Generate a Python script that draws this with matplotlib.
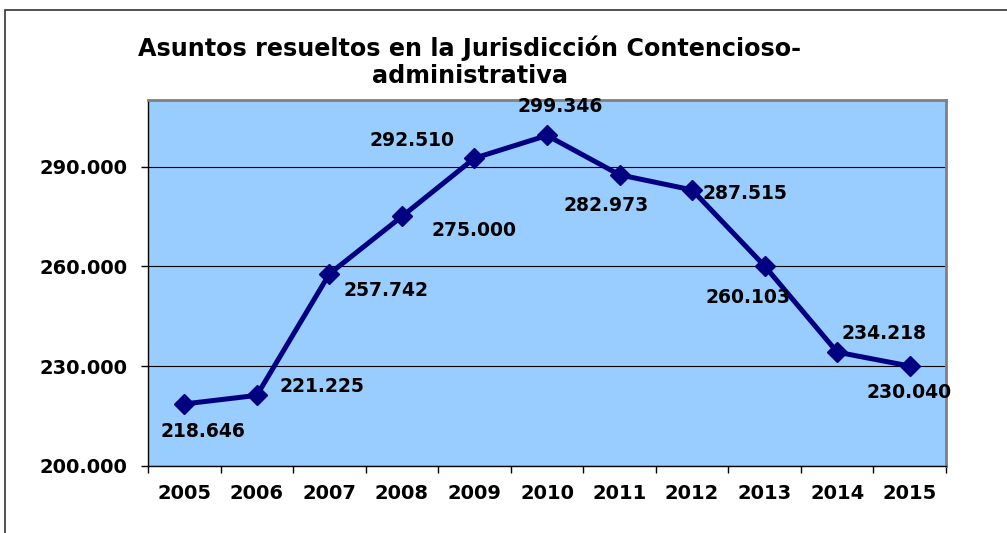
import matplotlib
matplotlib.use('Agg')
from matplotlib import pyplot as plt
from matplotlib.patches import Rectangle

anios = ['2005', '2006', '2007', '2008', '2009', '2010', '2011', '2012', '2013', '2014', '2015']
asuntos = [218646, 221225, 257742, 275000, 292510, 299346, 287515, 282973, 260103, 234218, 230040]
# etiquetas tal como aparecen en el grafico original
etiquetas = ['218.646', '221.225', '257.742', '275.000', '292.510', '299.346',
             '282.973', '287.515', '260.103', '234.218', '230.040']
yticks = [200000, 230000, 260000, 290000]

# desplazamiento de cada etiqueta respecto al punto (pixeles)
offsets = [(19, -28), (65, 9), (57, -17), (72, -14), (-62, 18), (13, 29),
           (-13, -31), (53, -4), (-17, -31), (47, 19), (-1, -26)]

plt.rcParams['font.family'] = 'DejaVu Sans'
plt.rcParams['font.weight'] = 'bold'

fig = plt.figure(figsize=(10.07, 5.33), dpi=100)
ax = fig.add_axes([148 / 1007, 1 - 466 / 533, 798 / 1007, 366 / 533])

fig.patches.append(Rectangle((5 / 1007, -0.1), 1.5, 1 - 10 / 533 + 0.1,
                             transform=fig.transFigure, fill=False,
                             edgecolor='#333333', linewidth=1.2))

ax.set_facecolor('#99ccff')
x = list(range(len(anios)))
ax.plot(x, asuntos, color='#000080', linewidth=3.6, marker='D', markersize=10,
        zorder=3, clip_on=False)

for xi, v, t, off in zip(x, asuntos, etiquetas, offsets):
  ax.annotate(t, (xi, v), xytext=off, textcoords='offset pixels',
              ha='center', va='center', fontsize=13.5, fontweight='bold', color='black')

ax.set_xlim(-0.5, len(anios) - 0.5)
ax.set_ylim(200000, 310000)
ax.set_yticks(yticks)
ax.set_yticklabels([f'{v:,}'.replace(',', '.') for v in yticks], fontsize=14, fontweight='bold')
ax.set_xticks([i - 0.5 for i in range(len(anios) + 1)])
ax.set_xticklabels([])
ax.set_xticks(x, minor=True)
ax.set_xticklabels(anios, minor=True, fontsize=14, fontweight='bold')
ax.tick_params(axis='x', which='minor', length=0, pad=13)
ax.tick_params(axis='x', which='major', length=5, width=1, color='black')
ax.tick_params(axis='y', length=5, width=1, pad=10)

ax.grid(axis='y', color='black', linewidth=0.8)
ax.set_axisbelow(True)
for s in ['top', 'right']:
  ax.spines[s].set_color('#808080')
  ax.spines[s].set_linewidth(2)
for s in ['left', 'bottom']:
  ax.spines[s].set_color('black')
  ax.spines[s].set_linewidth(1)

fig.text(470 / 1007, 1 - 62 / 533, 'Asuntos resueltos en la Jurisdicción Contencioso-\nadministrativa',
         ha='center', va='center', fontsize=17.2, fontweight='bold', linespacing=1.15)

fig.savefig('out.png', dpi=100)
